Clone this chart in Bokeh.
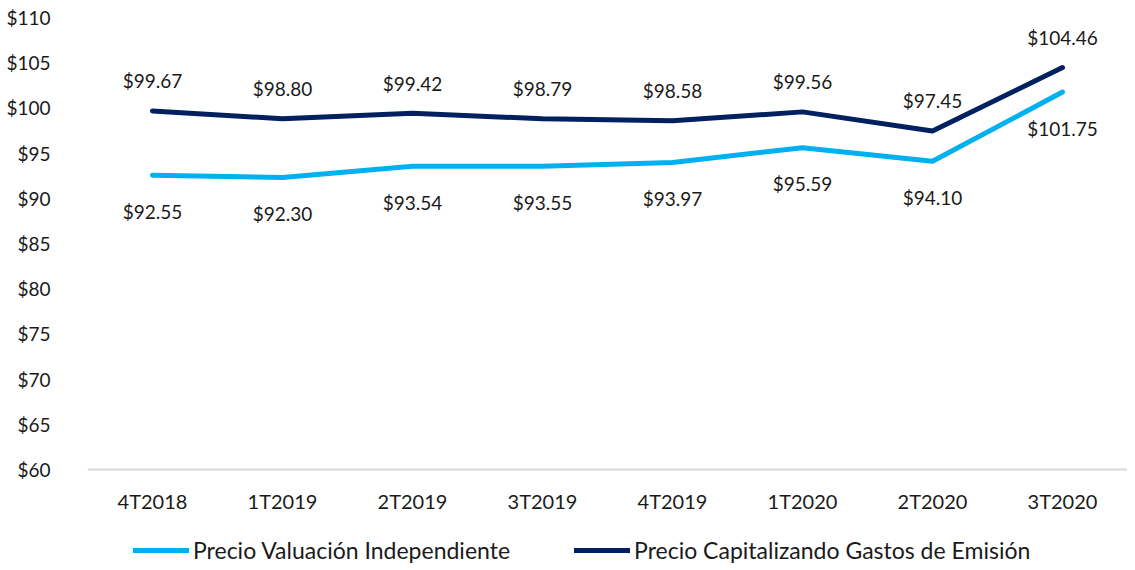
from bokeh.plotting import figure
from bokeh.models import ColumnDataSource, Legend, LegendItem, Range1d, FixedTicker, CustomJSTickFormatter, Span
from bokeh.core.properties import value
from bokeh.embed import file_html
from bokeh.resources import INLINE

categories = ["4T2018", "1T2019", "2T2019", "3T2019", "4T2019", "1T2020", "2T2020", "3T2020"]
valuacion = [92.55, 92.30, 93.54, 93.55, 93.97, 95.59, 94.10, 101.75]
capitalizando = [99.67, 98.80, 99.42, 98.79, 98.58, 99.56, 97.45, 104.46]
y_ticks = [60, 65, 70, 75, 80, 85, 90, 95, 100, 105, 110]
series_names = ["Precio Valuación Independiente", "Precio Capitalizando Gastos de Emisión"]

LIGHT = "#00B0F0"
DARK = "#002060"
FONT = "Lato"
TXT = "#1a1a1a"

W, H = 1127, 568
TOP = 17          # frame top (px) where $110 sits
PLOT_H = 452      # px between $110 and $60
y_min, y_max = y_ticks[0], y_ticks[-1]
# extend the frame below the $60 baseline so the legend can live inside it
y_start = y_min - (H - TOP - PLOT_H) / PLOT_H * (y_max - y_min)

p = figure(width=W, height=H, x_range=categories, y_range=Range1d(y_start, y_max),
           output_backend="svg", toolbar_location=None,
           min_border_left=87, min_border_right=0, min_border_top=TOP, min_border_bottom=0)
p.outline_line_color = None
p.grid.grid_line_color = None
p.background_fill_color = "white"
p.border_fill_color = "white"
p.xaxis.visible = False

# baseline (category axis line) at $60
p.add_layout(Span(location=y_min, dimension="width", line_color="#d9d9d9", line_width=2))

src = ColumnDataSource(dict(x=categories, v=valuacion, c=capitalizando,
                            base=[y_min] * len(categories),
                            vl=["$%.2f" % v for v in valuacion],
                            cl=["$%.2f" % v for v in capitalizando]))

r1 = p.line("x", "v", source=src, line_color=LIGHT, line_width=5, line_cap="round", line_join="round")
r2 = p.line("x", "c", source=src, line_color=DARK, line_width=5, line_cap="round", line_join="round")

p.text("x", "c", text="cl", source=src, y_offset=-30, text_align="center", text_baseline="middle",
       text_font=value(FONT), text_font_size="19px", text_color=TXT)
p.text("x", "v", text="vl", source=src, y_offset=36, text_align="center", text_baseline="middle",
       text_font=value(FONT), text_font_size="19px", text_color=TXT)

# category labels under the baseline
p.text("x", "base", text="x", source=src, y_offset=31, text_align="center", text_baseline="middle",
       text_font=value(FONT), text_font_size="20px", text_color=TXT)

p.yaxis.ticker = FixedTicker(ticks=y_ticks)
p.yaxis.formatter = CustomJSTickFormatter(code="return '$' + tick;")
p.yaxis.axis_line_color = None
p.yaxis.major_tick_line_color = None
p.yaxis.minor_tick_line_color = None
p.yaxis.major_label_standoff = 31
p.yaxis.major_label_text_font = FONT
p.yaxis.major_label_text_font_size = "19px"
p.yaxis.major_label_text_color = TXT

legend = Legend(items=[LegendItem(label=series_names[0], renderers=[r1]),
                       LegendItem(label=series_names[1], renderers=[r2])],
                orientation="horizontal", location=(46, 4), glyph_width=56, glyph_height=20,
                label_text_font=FONT, label_text_font_size="23px", label_text_color=TXT,
                spacing=64, label_standoff=4, border_line_color=None, background_fill_alpha=0,
                margin=0, padding=0)
p.add_layout(legend, "center")

open("out.html", "w").write(file_html(p, INLINE))
